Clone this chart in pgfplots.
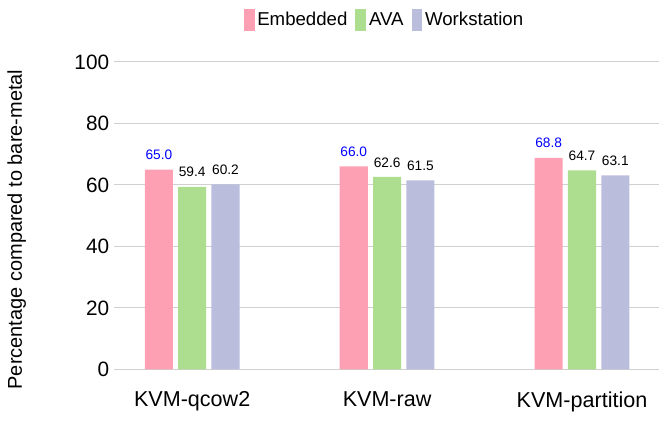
\documentclass[border=0pt]{standalone}
\usepackage{fontspec}
\setmainfont{Liberation Sans}
\usepackage{pgfplots}
\pgfplotsset{compat=1.18}

\definecolor{cEmb}{HTML}{FDA0B4}
\definecolor{cAva}{HTML}{ADDD8E}
\definecolor{cWs}{HTML}{BBBDDD}
\definecolor{gridgray}{HTML}{D0D0D0}

\begin{document}
\begin{tikzpicture}
\begin{axis}[
    name=ax,
    scale only axis,
    width=409.5pt, height=231pt,
    ybar,
    bar width=0.144,
    xmin=-0.402, xmax=2.395,
    ymin=0, ymax=100,
    ytick={0,20,...,100},
    xtick={0,1,2},
    xticklabels={KVM-qcow2, KVM-raw, KVM-partition},
    axis line style={draw=none},
    major tick style={draw=none},
    ymajorgrids=true,
    grid style={gridgray, line width=0.8pt},
    /pgf/number format/assume math mode=true,
    yticklabel style={font=\fontsize{15.6}{18}\selectfont},
    xticklabel style={font=\fontsize{16.2}{19}\selectfont, yshift=-8.8pt},
    ylabel={Percentage compared to bare-metal},
    ylabel style={font=\fontsize{15}{18}\selectfont, at={(axis description cs:-0.178,0.455)}, anchor=center},
    nodes near coords,
    nodes near coords style={font=\fontsize{10.3}{12}\selectfont, yshift=3.8pt,
        /pgf/number format/fixed, /pgf/number format/fixed zerofill,
        /pgf/number format/precision=1},
    legend columns=3,
    legend style={draw=none, fill=none, at={(0.497,1)}, anchor=center, yshift=31.5pt,
        font=\fontsize{14}{17}\selectfont,
        /tikz/every even column/.append style={column sep=4pt}},
    legend image code/.code={\fill[#1] (0pt,-8.2pt) rectangle (8.2pt,8.2pt);},
]
\addplot+[draw=none, fill=cEmb, bar shift=-0.171,
    nodes near coords style={text=blue}] coordinates {(0,65.0) (1,66.0) (2,68.8)};
\addlegendentry{Embedded}
\addplot+[draw=none, fill=cAva, bar shift=0,
    nodes near coords style={text=black}] coordinates {(0,59.4) (1,62.6) (2,64.7)};
\addlegendentry{AVA}
\addplot+[draw=none, fill=cWs, bar shift=0.171,
    nodes near coords style={text=black}] coordinates {(0,60.2) (1,61.5) (2,63.1)};
\addlegendentry{Workstation}
\end{axis}
\pgfresetboundingbox
\path ([shift={(-85.5pt,-42.75pt)}]ax.south west) rectangle ([shift={(0.75pt,46.5pt)}]ax.north east);
\end{tikzpicture}
\end{document}
